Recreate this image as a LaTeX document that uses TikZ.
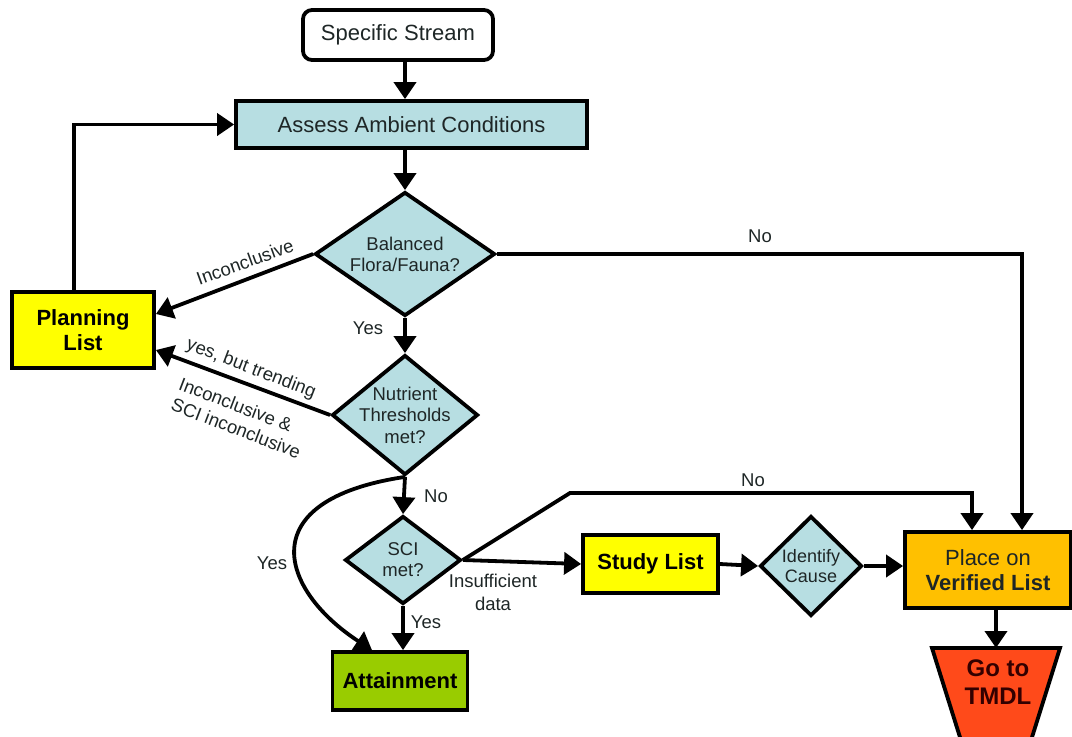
\documentclass[tikz,border=0pt]{standalone}
\usepackage{fontspec}
\setmainfont{Liberation Sans}
\usetikzlibrary{shapes.geometric,arrows.meta}
\definecolor{lblue}{HTML}{B7DEE2}
\definecolor{yel}{HTML}{FFFF00}
\definecolor{grn}{HTML}{99CC00}
\definecolor{org}{HTML}{FFC000}
\definecolor{redo}{HTML}{FF4A1A}
\definecolor{dtext}{HTML}{1E2626}
\tikzset{
  boxstyle/.style={draw=black, line width=3.8pt, inner sep=0pt, align=center, font=\fontsize{22}{25}\selectfont},
  diastyle/.style={draw=black, line width=3.8pt, diamond, inner sep=-10pt, fill=lblue, align=center, text=dtext, font=\fontsize{18.5}{21}\selectfont},
  conn/.style={line width=3.8pt, -{Triangle[length=17pt,width=22pt]}},
  lbl/.style={font=\fontsize{18.5}{21}\selectfont, inner sep=0pt, align=center, text=dtext},
}
\begin{document}
\begin{tikzpicture}[x=1pt,y=-1pt]
\useasboundingbox (0,0) rectangle (1072,737);
% nodes
\node[boxstyle, rounded corners=9pt, minimum width=190pt, minimum height=50pt, text=dtext] (stream) at (398,35) {Specific Stream};
\node[boxstyle, fill=lblue, minimum width=351pt, minimum height=47pt, text=dtext] (assess) at (411.5,124.5) {Assess Ambient Conditions};
\node[diastyle, aspect=1.45, minimum width=180pt, minimum height=124pt] (bal) at (405,254) {Balanced\\Flora/Fauna?};
\node[boxstyle, fill=yel, minimum width=142pt, minimum height=76pt, font=\fontsize{22}{25}\selectfont\bfseries] (plan) at (83,330) {Planning\\List};
\node[diastyle, aspect=1.22, inner sep=-14pt, minimum width=146pt, minimum height=120pt, font=\fontsize{18.5}{21.5}\selectfont] (nut) at (405,415) {Nutrient\\Thresholds\\met?};
\node[diastyle, aspect=1.32, minimum width=116pt, minimum height=88pt] (sci) at (403,560) {SCI\\met?};
\node[boxstyle, fill=grn, minimum width=135pt, minimum height=58pt, font=\fontsize{22}{25}\selectfont\bfseries] (att) at (400,681) {Attainment};
\node[boxstyle, fill=yel, minimum width=135pt, minimum height=58pt, font=\fontsize{22}{25}\selectfont\bfseries] (study) at (650.5,564) {Study List};
\node[diastyle, aspect=1.02, minimum width=102pt, minimum height=100pt, font=\fontsize{18}{20}\selectfont] (ident) at (811,566) {Identify\\Cause};
\node[boxstyle, fill=org, minimum width=166pt, minimum height=76pt, text=dtext] (ver) at (988,570) {Place on\\\textbf{Verified List}};
% trapezoid
\coordinate (tmdltop) at (996,648);
\filldraw[draw=black, line width=3.8pt, fill=redo, line join=miter] (932,648) -- (1060,648) -- (1028,750) -- (964,750) -- cycle;
\node[font=\fontsize{24}{28}\selectfont\bfseries, align=center, inner sep=0pt, text=black!80!red] (tmdl) at (998,682) {Go to\\TMDL};
% connectors
\draw[conn] (bal.north |- stream.south) -- (bal.north |- assess.north);
\draw[conn] (assess.south -| bal.north) -- (bal.north);
\draw[conn] ([xshift=-9pt]plan.north) |- (assess.west);
\draw[conn] (bal.west) -- ([yshift=16pt]plan.east);
\draw[conn] (bal.east) -| ([xshift=34pt]ver.north);
\draw[conn] (bal.south) -- (nut.north);
\draw[conn] (nut.west) -- ([yshift=-20pt]plan.east);
\draw[conn] (nut.south) -- (sci.north);
\draw[conn] (nut.south) .. controls (250,500) and (280,590) .. ([xshift=-28pt]att.north);
\draw[conn] (sci.south) -- (sci.south |- att.north);
\draw[conn] (sci.east) -- (study.west);
\coordinate (bend) at (570,493);
\draw[conn] (sci.east) -- (bend) -| ([xshift=-16pt]ver.north);
\draw[conn] (study.east) -- (ident.west);
\draw[conn] (ident.east) -- (ident.east -| ver.west);
\draw[conn] (tmdltop |- ver.south) -- (tmdltop);
% labels
\node[lbl, rotate=20] (lincon) at (245,262) {Inconclusive};
\node[lbl] (lno1) at (760,236) {No};
\node[lbl] (lyes1) at (368,328) {Yes};
\node[lbl, rotate=-21] (ltrend) at (251,369) {yes, but trending};
\node[lbl, font=\fontsize{18.5}{22}\selectfont, rotate=-21, align=left] (linc2) at (240,418) {Inconclusive \&\\SCI inconclusive};
\node[lbl] (lno2) at (436,496) {No};
\node[lbl] (lyes2) at (272,563) {Yes};
\node[lbl] (lyes3) at (426,622) {Yes};
\node[lbl, font=\fontsize{18.5}{23}\selectfont] (linsuf) at (493,592) {Insufficient\\data};
\node[lbl] (lno3) at (753,480) {No};
\end{tikzpicture}
\end{document}
